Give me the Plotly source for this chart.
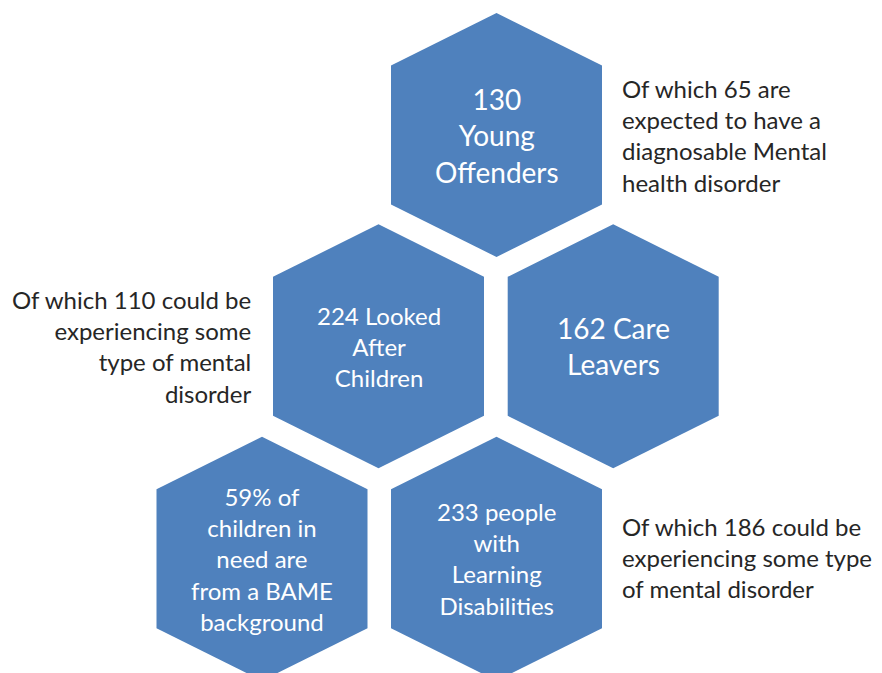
import plotly.graph_objects as go

# ---- data ----
hex_labels = [
    "130<br>Young<br>Offenders",
    "224 Looked<br>After<br>Children",
    "162 Care<br>Leavers",
    "59% of<br>children in<br>need are<br>from a BAME<br>background",
    "233 people<br>with<br>Learning<br>Disabilities",
]
hex_font_sizes = [28, 24, 28, 24, 24]

side_notes = [
    "Of which 65 are<br>expected to have a<br>diagnosable Mental<br>health disorder",
    "Of which 110 could be<br>experiencing some<br>type of mental<br>disorder",
    "Of which 186 could be<br>experiencing some type<br>of mental disorder",
]

# ---- layout constants (pixels) ----
W, H = 882, 673
hex_centers = [(496.5, 135), (378.5, 346.3), (613.2, 346.3), (262, 558.7), (496.5, 558.7)]
HALF_W, TOP, SHOULDER = 105.5, 122, 69.5
note_pos = [(620, 135, "left"), (253, 346, "right"), (620, 557, "left")]

BLUE = "#4F81BD"
FONT = "Lato, Carlito, Calibri, sans-serif"

fig = go.Figure()
for (cx, cy) in hex_centers:
    xs = [cx, cx + HALF_W, cx + HALF_W, cx, cx - HALF_W, cx - HALF_W, cx]
    ys = [cy - TOP, cy - SHOULDER, cy + SHOULDER, cy + TOP, cy + SHOULDER, cy - SHOULDER, cy - TOP]
    fig.add_trace(go.Scatter(x=xs, y=ys, fill="toself", fillcolor=BLUE,
                             line=dict(width=0, color=BLUE), mode="lines",
                             hoverinfo="skip", showlegend=False))

for (cx, cy), label, fs in zip(hex_centers, hex_labels, hex_font_sizes):
    fig.add_annotation(x=cx, y=cy, text=label, showarrow=False,
                       xanchor="center", yanchor="middle", align="center",
                       font=dict(family=FONT, size=fs, color="white"))

for (nx, ny, al), note in zip(note_pos, side_notes):
    fig.add_annotation(x=nx, y=ny, text=note, showarrow=False,
                       xanchor=al, yanchor="middle", align=al,
                       font=dict(family=FONT, size=24, color="#262626"))

fig.update_layout(
    width=W, height=H,
    margin=dict(l=0, r=0, t=0, b=0),
    paper_bgcolor="white", plot_bgcolor="white",
    xaxis=dict(range=[0, W], visible=False, fixedrange=True),
    yaxis=dict(range=[H, 0], visible=False, fixedrange=True),
)

fig.write_html("out.html", config={"displayModeBar": False},
               post_script="document.body.style.margin='0';document.body.style.overflow='hidden';")
